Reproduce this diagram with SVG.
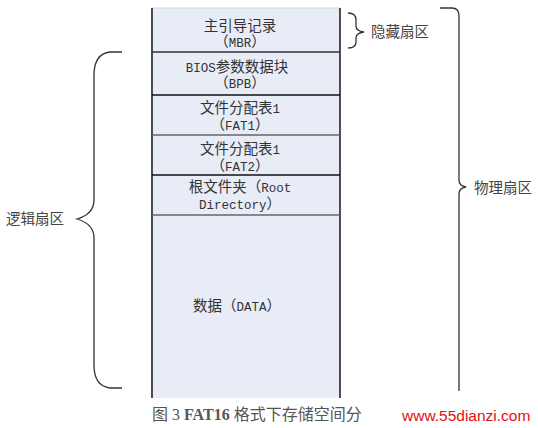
<svg xmlns="http://www.w3.org/2000/svg" width="538" height="428" viewBox="0 0 538 428">
<style>
.t{font-family:"Liberation Serif","Noto Sans CJK SC",serif;font-size:14.5px;fill:#333;text-anchor:middle}
.l{font-family:"Liberation Mono",monospace;font-size:12.5px}
.lbl{font-family:"Noto Sans CJK SC",sans-serif;font-size:14.5px;fill:#444}
.br{fill:none;stroke:#333;stroke-width:1.3}
.dv{stroke-width:1.6}
</style>
<rect width="538" height="428" fill="#fff"/>
<g id="column">
<rect x="151" y="8" width="189" height="390" fill="#E7ECF6"/>
<line x1="151" y1="8" x2="340" y2="8" stroke="#cfd5df" stroke-width="1"/>
<line x1="152" y1="8" x2="152" y2="398" stroke="#222" stroke-width="1.6"/>
<line x1="340" y1="8" x2="340" y2="398" stroke="#222" stroke-width="1.6"/>
</g>
<g id="mbr">
<line class="dv" x1="152" y1="52" x2="340" y2="52" stroke="#333"/>
<text class="t" x="240" y="31">主引导记录</text>
<text class="t" x="240" y="47">（<tspan class="l">MBR</tspan>）</text>
</g>
<g id="bpb">
<line class="dv" x1="152" y1="95" x2="340" y2="95" stroke="#111"/>
<text class="t" x="237" y="72"><tspan class="l">BIOS</tspan>参数数据块</text>
<text class="t" x="240" y="88">（<tspan class="l">BPB</tspan>）</text>
</g>
<g id="fat1">
<line class="dv" x1="152" y1="135" x2="340" y2="135" stroke="#666"/>
<text class="t" x="240" y="113">文件分配表<tspan class="l">1</tspan></text>
<text class="t" x="240" y="130">（<tspan class="l">FAT1</tspan>）</text>
</g>
<g id="fat2">
<line class="dv" x1="152" y1="175" x2="340" y2="175" stroke="#111"/>
<text class="t" x="240" y="154">文件分配表<tspan class="l">1</tspan></text>
<text class="t" x="240" y="171">（<tspan class="l">FAT2</tspan>）</text>
</g>
<g id="root">
<line class="dv" x1="152" y1="215" x2="340" y2="215" stroke="#666"/>
<text class="t" x="240" y="192">根文件夹（<tspan class="l">Root</tspan></text>
<text class="t" x="240" y="209"><tspan class="l">Directory</tspan>）</text>
</g>
<g id="data">
<text class="t" x="237" y="311">数据（<tspan class="l">DATA</tspan>）</text>
</g>
<g id="connectors">
<path class="br" d="M348 13 Q356 13 356 20 L356 26 Q356 31 364 32 Q356 33 356 38 L356 42 Q356 48 348 48"/>
<path class="br" d="M440 8 L452 8 Q459 8 459 16 L459 180 Q459 186 466 187 Q459 188 459 194 L459 391"/>
<path class="br" d="M122 52 L110 52 Q94 54 94 75 L94 200 Q94 214 77 219 Q94 224 94 238 L94 365 Q94 386 110 388 L122 388"/>
</g>
<g id="labels">
<text class="lbl" x="371" y="37">隐藏扇区</text>
<text class="lbl" x="474" y="193">物理扇区</text>
<text class="lbl" x="6" y="224">逻辑扇区</text>
</g>
<g id="caption">
<text x="152" y="420" font-family="Liberation Serif,'Noto Sans CJK SC',serif" font-size="16" fill="#555">图 3 <tspan font-weight="bold">FAT16</tspan> 格式下存储空间分</text>
<text x="402" y="421" font-family="Liberation Sans,Arial,sans-serif" font-size="15.5" fill="#e01010">www.55dianzi.com</text>
</g>
</svg>
